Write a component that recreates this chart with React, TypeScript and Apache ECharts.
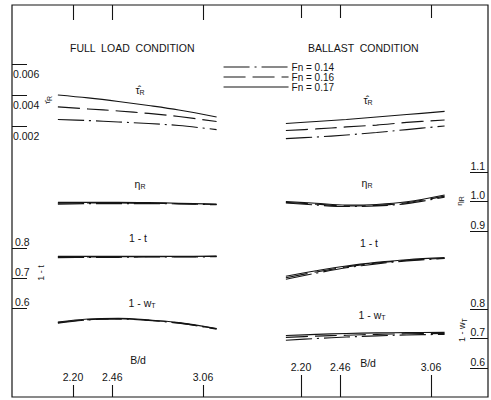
import React, { useEffect, useRef } from 'react';
import * as echarts from 'echarts';

// B/d stations at which the curves were read
const bd = [2.1, 2.3, 2.5, 2.7, 2.9, 3.15];
const fnNames = ['Fn = 0.14', 'Fn = 0.16', 'Fn = 0.17'];
const xTickValues = [2.2, 2.46, 3.06];

// FULL LOAD: [Fn 0.14, Fn 0.16, Fn 0.17]
const tauFull14 = [0.00242, 0.00235, 0.00226, 0.00216, 0.00203, 0.00177];
const tauFull16 = [0.00323, 0.0031, 0.00297, 0.00281, 0.00261, 0.00229];
const tauFull17 = [0.004, 0.00381, 0.00358, 0.00332, 0.00303, 0.00258];
const etaFull14 = [0.991, 0.993, 0.993, 0.993, 0.992, 0.989];
const etaFull16 = [0.994, 0.995, 0.995, 0.994, 0.993, 0.99];
const etaFull17 = [0.997, 0.997, 0.997, 0.996, 0.994, 0.991];
const tFull14 = [0.768, 0.769, 0.769, 0.77, 0.77, 0.771];
const tFull16 = [0.77, 0.77, 0.771, 0.771, 0.771, 0.772];
const tFull17 = [0.772, 0.772, 0.772, 0.772, 0.772, 0.773];
const wFull14 = [0.752, 0.763, 0.766, 0.761, 0.752, 0.732];
const wFull16 = [0.754, 0.764, 0.767, 0.762, 0.753, 0.733];
const wFull17 = [0.756, 0.766, 0.768, 0.763, 0.754, 0.734];

// BALLAST
const tauBal14 = [0.00119, 0.00129, 0.00142, 0.00158, 0.00177, 0.002];
const tauBal16 = [0.00171, 0.00181, 0.00194, 0.00206, 0.00223, 0.00239];
const tauBal17 = [0.00216, 0.00229, 0.00242, 0.00258, 0.00274, 0.00294];
const etaBal14 = [0.995, 0.988, 0.983, 0.985, 0.993, 1.015];
const etaBal16 = [0.997, 0.991, 0.985, 0.987, 0.996, 1.018];
const etaBal17 = [1.0, 0.994, 0.988, 0.99, 0.999, 1.022];
const tBal14 = [0.696, 0.716, 0.734, 0.747, 0.757, 0.765];
const tBal16 = [0.701, 0.72, 0.737, 0.75, 0.759, 0.766];
const tBal17 = [0.706, 0.724, 0.74, 0.752, 0.761, 0.768];
const wBal14 = [0.694, 0.7, 0.705, 0.709, 0.712, 0.714];
const wBal16 = [0.704, 0.708, 0.711, 0.714, 0.716, 0.717];
const wBal17 = [0.71, 0.714, 0.717, 0.719, 0.72, 0.721];

const tauTicks = [0.002, 0.006];
const etaTicks = [0.9, 1.1];
const oneMinusTicks = [0.6, 0.8];

const INK = '#141414';
const FONT = 'Liberation Sans';
const X_MIN = 2.0;
const X_MAX = 3.3;
const PX_PER_UNIT = 151.16;
const panelLeft = [73 - 0.2 * PX_PER_UNIT, 301 - 0.2 * PX_PER_UNIT];
const panelWidth = (X_MAX - X_MIN) * PX_PER_UNIT;
const FRAME = { x: 12, y: 5, r: 488, b: 397 };

const dashTypes: any[] = [[26, 5, 2, 5], [22, 7], 'solid'];

const quantities = [
  { top: 64, height: 62, range: tauTicks, interval: 0.002, data: [[tauFull14, tauFull16, tauFull17], [tauBal14, tauBal16, tauBal17]] },
  { top: 172, height: 59, range: etaTicks, interval: 0.1, data: [[etaFull14, etaFull16, etaFull17], [etaBal14, etaBal16, etaBal17]] },
  { top: 248, height: 60, range: oneMinusTicks, interval: 0.1, data: [[tFull14, tFull16, tFull17], [tBal14, tBal16, tBal17]] },
  { top: 309, height: 59, range: oneMinusTicks, interval: 0.1, data: [[wFull14, wFull16, wFull17], [wBal14, wBal16, wBal17]] },
];

function buildOption() {
  const grid: any[] = [];
  const xAxis: any[] = [];
  const yAxis: any[] = [];
  const series: any[] = [];

  // frame grids (0: full load, 1: ballast)
  [0, 1].forEach((p) => {
    grid.push({ left: panelLeft[p], width: panelWidth, top: FRAME.y, height: FRAME.b - FRAME.y });
    const tickLen = p === 0 ? 12 : 22;
    const labelMargin = p === 0 ? 15 : 25;
    xAxis.push({
      type: 'value', gridIndex: p, position: 'bottom', min: X_MIN, max: X_MAX,
      axisLine: { show: false }, splitLine: { show: false },
      axisTick: { show: true, inside: true, length: tickLen, customValues: xTickValues, lineStyle: { color: INK, width: 1.1 } },
      axisLabel: { show: true, inside: true, margin: labelMargin, customValues: xTickValues, color: INK, fontSize: 10.5, fontFamily: FONT, formatter: (v: number) => v.toFixed(2) },
    });
    xAxis.push({
      type: 'value', gridIndex: p, position: 'top', min: X_MIN, max: X_MAX,
      axisLine: { show: false }, splitLine: { show: false },
      axisTick: { show: true, inside: true, length: p === 0 ? 15 : 13, customValues: xTickValues, lineStyle: { color: INK, width: 1.1 } },
      axisLabel: { show: false },
    });
    yAxis.push({ type: 'value', gridIndex: p, show: false, min: 0, max: 1 });
  });

  quantities.forEach((q, qi) => {
    [0, 1].forEach((p) => {
      const g = grid.length;
      grid.push({ left: panelLeft[p], width: panelWidth, top: q.top, height: q.height });
      const xi = xAxis.length;
      xAxis.push({ type: 'value', gridIndex: g, show: false, min: X_MIN, max: X_MAX });
      const yi = yAxis.length;
      const base: any = { type: 'value', gridIndex: g, min: q.range[0], max: q.range[1], interval: q.interval, splitLine: { show: false }, axisLine: { show: false } };
      const visibleLeft = p === 0 && (qi === 0 || qi === 2);
      const visibleRight = p === 1 && (qi === 1 || qi === 3);
      if (visibleLeft) {
        yAxis.push({
          ...base, position: 'left', offset: panelLeft[0] - FRAME.x,
          axisTick: { show: true, inside: true, length: 15, lineStyle: { color: INK, width: 1 } },
          axisLabel: {
            inside: true, margin: qi === 0 ? 1 : 3, color: INK, fontSize: 10.5, fontFamily: FONT,
            showMinLabel: true, showMaxLabel: true,
            verticalAlign: qi === 0 ? 'top' : 'bottom',
            padding: qi === 0 ? [4, 0, 0, 0] : [0, 0, 1, 0],
            formatter: (v: number) => (qi === 0 ? v.toFixed(3) : v.toFixed(1)),
          },
        });
      } else if (visibleRight) {
        yAxis.push({
          ...base, position: 'right', offset: FRAME.r - (panelLeft[1] + panelWidth),
          axisTick: { show: true, inside: true, length: 18, lineStyle: { color: INK, width: 1 } },
          axisLabel: {
            inside: true, margin: 3, color: INK, fontSize: 10.5, fontFamily: FONT,
            showMinLabel: true, showMaxLabel: true,
            verticalAlign: 'bottom', padding: [0, 0, 1, 0],
            formatter: (v: number) => v.toFixed(1),
          },
        });
      } else {
        yAxis.push({ ...base, show: false });
      }
      q.data[p].forEach((vals, k) => {
        series.push({
          type: 'line', name: fnNames[k], xAxisIndex: xi, yAxisIndex: yi,
          data: bd.map((x, i) => [x, vals[i]]),
          smooth: 0.35, symbol: 'none', clip: false, silent: true,
          lineStyle: { color: INK, width: 1.15, type: dashTypes[k] },
          itemStyle: { color: INK },
        });
      });
    });
  });

  const sub = { s: { fontSize: 7, fontFamily: FONT, color: INK, padding: [5, 0, 0, 0] } };
  const txt = (x: number, y: number, text: string, fontSize = 10.5, rotation = 0, align = 'center'): any => ({
    type: 'text', x, y, rotation,
    style: { text, fill: INK, fontSize, fontFamily: FONT, align, verticalAlign: 'middle', rich: sub },
  });

  const graphic: any[] = [
    { type: 'rect', shape: { x: FRAME.x, y: FRAME.y, width: FRAME.r - FRAME.x, height: FRAME.b - FRAME.y }, style: { fill: 'none', stroke: INK, lineWidth: 1.2 }, silent: true },
    txt(70, 48, 'FULL  LOAD  CONDITION', 10.5, 0, 'left'),
    txt(308, 48, 'BALLAST  CONDITION', 10.5, 0, 'left'),
    txt(140, 90, 'τ̂{s|R}'),
    txt(368, 100, 'τ̂{s|R}'),
    txt(140, 184, 'η{s|R}'),
    txt(367, 183, 'η{s|R}'),
    txt(138, 238, '1 - t'),
    txt(369, 243, '1 - t'),
    txt(142, 303, '1 - w{s|T}'),
    txt(372, 315, '1 - w{s|T}'),
    txt(138, 360, 'B/d'),
    txt(368, 363, 'B/d'),
    txt(47, 100, 'τ̂{s|R}', 8, Math.PI / 2),
    txt(41, 273, '1 - t', 9, Math.PI / 2),
    txt(459, 201, 'η{s|R}', 8, Math.PI / 2),
    txt(462, 330, '1 - w{s|T}', 9, Math.PI / 2),
  ];

  return {
    animation: false,
    backgroundColor: '#ffffff',
    textStyle: { fontFamily: FONT, color: INK },
    legend: {
      data: fnNames, orient: 'vertical', left: 218, top: 57,
      itemWidth: 65, itemHeight: 9, itemGap: 0, selectedMode: false,
      itemStyle: { opacity: 0 },
      lineStyle: { width: 1.1 },
      textStyle: { fontSize: 10, lineHeight: 10, color: INK, fontFamily: FONT, padding: [0, 0, 0, -2] },
    },
    grid, xAxis, yAxis, series, graphic,
  };
}

export default function App() {
  const ref = useRef<HTMLDivElement>(null);
  useEffect(() => {
    document.body.style.margin = '0';
    const chart = echarts.init(ref.current!, null, { renderer: 'svg' });
    chart.setOption(buildOption() as any);
    return () => chart.dispose();
  }, []);
  return <div ref={ref} style={{ position: 'fixed', left: 0, top: 0, width: 491, height: 400, background: '#fff' }} />;
}
